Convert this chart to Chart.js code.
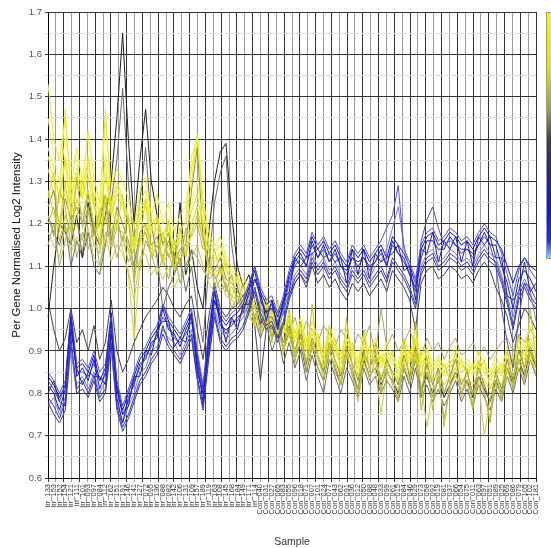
<!DOCTYPE html>
<html>
<head>
<meta charset="utf-8">
<script src="https://cdn.jsdelivr.net/npm/chart.js@4/dist/chart.umd.min.js"></script>
<style>
html, body { margin: 0; padding: 0; background: #fff; overflow: hidden; }
#wrap { position: relative; width: 551px; height: 548px; }
#colorbar {
  position: absolute; left: 546px; top: 12px; width: 10px; height: 245px;
  border: 1px solid #999;
  background: linear-gradient(to bottom, #f6f600 0%, #e2e210 22%, #9a9a50 40%, #404040 52%, #282880 64%, #1414d8 80%, #2030f0 93%, #80d8f8 100%);
}
</style>
</head>
<body>
<div id="wrap">
  <canvas id="chart" width="551" height="548"></canvas>
  <div id="colorbar"></div>
</div>
<script>
// サンプル名
var irrLabels = ['133','153','152','154','121','111','101','093','097','084','112','162','151','191','146','141','127','072','095','136','088','082','142','106','131','109','157','189','119','163','108','145','168','184','149','171','114'];
var conLabels = ['040','031','027','065','083','055','096','018','071','007','101','024','077','043','062','091','036','012','050','088','048','033','099','061','015','084','046','029','073','058','092','019','081','037','066','054','075','011','063','097','051','089','025','069','086','079','105','102','181'];

// 黄色系（Irr で高い遺伝子）
var yellow1 = [1.53,1.40,1.35,1.45,1.28,1.38,1.30,1.42,1.31,1.25, 1.44,1.29,1.33,1.30,1.26,1.19,1.28,1.31,1.22,1.27, 1.20,1.25,1.18,1.22,1.24,1.33,1.41,1.26,1.18,1.15, 1.17,1.12,1.10,1.08,1.07,1.05,1.02,1.00,1.03,0.98, 1.01,0.95,0.99,0.94,0.98,0.92,0.97,0.93,0.90,0.96, 0.92,0.89,0.95,0.91,0.88,0.94,0.90,0.93,0.88,0.92, 0.89,0.87,0.93,0.89,0.95,0.88,0.91,0.87,0.89,0.86, 0.88,0.91,0.87,0.88,0.86,0.90,0.87,0.85,0.89,0.86, 0.91,0.88,0.93,0.91,0.96,0.92];
var yellow2 = [1.18,1.15,1.12,1.20,1.13,1.17,1.14,1.19,1.12,1.10, 1.18,1.11,1.15,1.13,1.09,1.02,1.12,1.13,1.08,1.10, 1.07,1.10,1.05,1.08,1.09,1.12,1.15,1.10,1.06,1.04, 1.07,1.03,1.02,1.00,1.01,0.98,0.96,0.95,0.97,0.93, 0.95,0.90,0.94,0.88,0.92,0.86,0.91,0.88,0.84,0.90, 0.86,0.83,0.89,0.85,0.78,0.87,0.84,0.86,0.75,0.85, 0.83,0.81,0.86,0.83,0.88,0.82,0.72,0.81,0.83,0.80, 0.82,0.84,0.81,0.82,0.80,0.83,0.70,0.79,0.82,0.80, 0.84,0.82,0.86,0.84,0.88,0.85];
var yellow3 = [1.26,1.32,1.18,1.28,1.24,1.21,1.30,1.25,1.27,1.14, 1.26,1.24,1.19,1.27,1.13,1.17,1.15,1.26,1.12,1.22, 1.10,1.21,1.09,1.19,1.12,1.18,1.22,1.21,1.08,1.14, 1.08,1.11,1.02,1.08,1.00,1.05,0.96,1.01,0.97,0.99, 0.94,0.96,0.93,0.95,0.91,0.93,0.90,0.94,0.86,0.90, 0.93,0.85,0.89,0.92,0.84,0.88,0.91,0.87,0.89,0.86, 0.90,0.83,0.88,0.90,0.89,0.84,0.91,0.83,0.85,0.87, 0.83,0.86,0.88,0.84,0.87,0.85,0.88,0.81,0.84,0.87, 0.85,0.89,0.87,0.91,0.89,0.86];
var yellow4 = [1.36,1.30,1.27,1.47,1.26,1.33,1.28,1.36,1.26,1.23, 1.47,1.24,1.30,1.26,1.22,1.15,1.25,1.28,1.20,1.22, 1.17,1.21,1.15,1.19,1.20,1.30,1.41,1.23,1.15,1.13, 1.15,1.10,1.09,1.07,1.06,1.03,1.00,0.99,1.02,0.97, 1.00,0.94,0.98,0.93,0.96,0.91,0.95,0.92,0.89,0.94, 0.91,0.88,0.93,0.90,0.87,0.92,0.89,0.91,0.87,0.90, 0.88,0.86,0.91,0.88,0.93,0.87,0.89,0.86,0.88,0.85, 0.87,0.89,0.86,0.87,0.85,0.88,0.86,0.84,0.87,0.85, 0.89,0.87,0.91,0.89,0.93,0.90];
var yellow5 = [1.22,1.17,1.28,1.24,1.15,1.31,1.19,1.24,1.17,1.23, 1.25,1.15,1.21,1.16,1.22,1.06,1.17,1.18,1.13,1.12, 1.18,1.12,1.16,1.10,1.19,1.17,1.20,1.14,1.15,1.05, 1.10,1.04,1.08,1.01,1.06,0.99,1.01,0.94,1.03,0.92, 1.00,0.89,0.99,0.87,0.97,0.85,0.92,0.86,0.83,0.91, 0.85,0.82,0.90,0.84,0.80,0.89,0.83,0.88,0.81,0.86, 0.82,0.79,0.87,0.82,0.90,0.76,0.85,0.79,0.84,0.74, 0.81,0.85,0.80,0.83,0.76,0.84,0.80,0.73,0.83,0.79, 0.86,0.81,0.88,0.83,0.90,0.84];
var yellow6 = [1.28,1.22,1.20,1.30,1.18,1.26,1.22,1.28,1.20,1.16, 1.27,1.18,1.23,1.14,1.08,0.93,1.10,1.20,1.14,1.16, 1.12,1.15,1.10,1.13,1.14,1.20,1.24,1.16,1.10,1.08, 1.10,1.06,1.05,1.03,1.02,1.00,0.97,0.96,0.98,0.94, 0.96,0.91,0.95,0.90,0.93,0.88,0.92,0.89,0.86,0.91, 0.88,0.85,0.90,0.87,0.84,0.89,0.86,0.88,0.84,0.87, 0.85,0.83,0.88,0.85,0.90,0.84,0.86,0.83,0.85,0.82, 0.84,0.86,0.83,0.84,0.82,0.85,0.83,0.81,0.84,0.82, 0.86,0.84,0.88,0.86,0.90,0.87];
var yellow7 = [1.45,1.36,1.30,1.40,1.33,1.35,1.27,1.33,1.29,1.21, 1.35,1.25,1.28,1.26,1.21,1.16,1.22,1.25,1.18,1.21, 1.16,1.19,1.14,1.17,1.18,1.25,1.30,1.20,1.13,1.12, 1.13,1.09,1.07,1.06,1.05,1.03,1.00,0.99,1.01,0.97, 0.99,0.95,0.98,0.93,0.97,0.92,0.95,0.92,0.89,0.94, 0.91,0.88,0.93,0.90,0.87,0.92,0.89,0.91,0.87,0.90, 0.88,0.86,0.91,0.88,0.93,0.87,0.89,0.86,0.88,0.85, 0.87,0.89,0.86,0.87,0.85,0.88,0.86,0.84,0.87,0.85, 0.89,0.87,0.91,0.89,0.93,0.90];
var yellow8 = [1.15,1.20,1.10,1.16,1.22,1.12,1.18,1.14,1.20,1.10, 1.16,1.19,1.12,1.17,1.11,1.14,1.09,1.16,1.13,1.08, 1.12,1.07,1.13,1.06,1.10,1.14,1.12,1.09,1.07,1.08, 1.04,1.06,1.00,1.03,0.99,1.01,0.98,1.02,0.95,1.00, 0.96,0.99,0.94,0.98,0.93,0.97,0.95,0.92,0.96,0.94, 0.91,0.95,0.93,0.90,0.94,0.92,0.96,0.89,1.00,0.91, 0.94,0.90,0.92,0.95,0.91,0.89,0.93,0.90,0.92,0.88, 0.91,0.93,0.89,0.90,0.92,0.89,0.91,0.88,0.90,0.92, 0.93,0.90,0.94,0.92,0.95,0.93];
var yellow9 = [1.24,1.28,1.19,1.26,1.21,1.24,1.20,1.27,1.18,1.20, 1.27,1.16,1.24,1.20,1.16,1.10,1.18,1.20,1.15,1.17, 1.12,1.16,1.11,1.14,1.15,1.28,1.38,1.17,1.11,1.09, 1.12,1.07,1.06,1.04,1.03,1.01,0.98,0.97,0.99,0.95, 0.97,0.92,0.96,0.90,0.94,0.87,0.93,0.89,0.85,0.92, 0.88,0.84,0.91,0.87,0.83,0.90,0.86,0.89,0.83,0.88, 0.85,0.82,0.89,0.84,0.91,0.79,0.87,0.82,0.86,0.80, 0.84,0.88,0.82,0.85,0.80,0.86,0.82,0.78,0.85,0.81, 0.88,0.83,0.90,0.86,0.91,0.87];
var yellow10 = [1.33,1.27,1.25,1.35,1.22,1.30,1.26,1.31,1.24,1.19, 1.32,1.22,1.27,1.24,1.20,1.13,1.21,1.24,1.17,1.19, 1.15,1.18,1.13,1.16,1.17,1.23,1.27,1.19,1.13,1.11, 1.13,1.09,1.07,1.06,1.05,1.02,1.00,0.98,1.01,0.96, 0.98,0.94,0.97,0.92,0.95,0.90,0.94,0.91,0.88,0.93, 0.90,0.87,0.92,0.89,0.86,0.91,0.88,0.90,0.86,0.89, 0.87,0.85,0.90,0.87,0.92,0.86,0.88,0.85,0.87,0.84, 0.86,0.88,0.85,0.86,0.84,0.87,0.85,0.83,0.86,0.84, 0.88,0.86,0.90,0.88,0.92,0.89];
var yellow11 = [1.20,1.24,1.16,1.22,1.18,1.20,1.16,1.23,1.15,1.13, 1.22,1.14,1.19,1.18,1.14,1.08,1.16,1.18,1.12,1.15, 1.11,1.13,1.09,1.12,1.13,1.18,1.22,1.16,1.09,1.07, 1.09,1.05,1.03,1.02,1.01,0.99,0.96,0.95,0.97,0.93, 1.02,0.90,1.00,0.89,0.97,0.86,1.01,0.88,0.85,0.96, 0.87,0.82,0.98,0.86,0.81,0.95,0.85,0.92,0.80,0.88, 0.84,0.78,0.93,0.83,0.97,0.80,0.89,0.76,0.86,0.72, 0.83,0.90,0.79,0.86,0.77,0.88,0.80,0.74,0.86,0.78, 0.90,0.82,0.94,0.85,1.00,0.88];
var yellow12 = [1.38,1.33,1.26,1.36,1.25,1.32,1.26,1.35,1.25,1.20, 1.36,1.22,1.29,1.25,1.21,1.14,1.23,1.26,1.19,1.22, 1.17,1.20,1.14,1.18,1.21,1.36,1.40,1.24,1.16,1.14, 1.15,1.11,1.08,1.06,1.05,1.03,1.01,0.99,1.00,0.97, 0.99,0.94,0.97,0.93,0.96,0.91,0.95,0.92,0.89,0.94, 0.91,0.88,0.93,0.90,0.87,0.92,0.89,0.91,0.87,0.90, 0.88,0.86,0.91,0.88,0.93,0.87,0.89,0.86,0.88,0.85, 0.87,0.89,0.86,0.87,0.85,0.88,0.86,0.84,0.87,0.85, 0.89,0.87,0.91,0.89,0.93,0.90];

// 青系（Con で高い遺伝子）
var blue1 = [0.82,0.80,0.76,0.81,0.98,0.84,0.86,0.83,0.88,0.81, 0.85,0.97,0.79,0.73,0.79,0.82,0.87,0.88,0.92,0.93, 1.00,0.95,0.94,0.91,0.95,0.98,0.87,0.78,0.93,1.04, 0.96,0.95,0.96,0.98,0.99,1.04,1.09,1.02,0.99,1.01, 0.96,1.01,1.07,1.11,1.13,1.10,1.16,1.12,1.15,1.11, 1.14,1.10,1.09,1.12,1.11,1.12,1.10,1.11,1.14,1.10, 1.16,1.13,1.12,1.08,1.05,1.12,1.16,1.16,1.14,1.14, 1.17,1.15,1.14,1.14,1.13,1.15,1.18,1.15,1.15,1.10, 1.06,1.00,1.07,1.09,1.07,1.04];
var blue2 = [0.79,0.77,0.74,0.78,0.93,0.81,0.83,0.80,0.84,0.79, 0.81,0.92,0.77,0.72,0.75,0.79,0.83,0.85,0.88,0.90, 0.96,0.92,0.90,0.88,0.91,0.94,0.84,0.77,0.89,0.99, 0.93,0.91,0.93,0.94,0.96,1.00,1.05,0.99,0.96,0.97, 0.93,0.97,1.03,1.07,1.09,1.07,1.12,1.09,1.11,1.08, 1.10,1.07,1.05,1.09,1.07,1.09,1.06,1.08,1.10,1.07, 1.12,1.10,1.08,1.05,1.01,1.09,1.12,1.13,1.10,1.11, 1.13,1.12,1.10,1.11,1.09,1.12,1.14,1.12,1.11,1.07, 1.02,0.96,1.03,1.06,1.03,1.01];
var blue3 = [0.85,0.83,0.80,0.83,0.99,0.87,0.88,0.86,0.90,0.85, 0.87,0.98,0.83,0.77,0.81,0.85,0.89,0.91,0.94,0.96, 1.01,0.98,0.96,0.94,0.97,1.00,0.90,0.82,0.95,1.05, 0.99,0.97,0.99,1.00,1.02,1.06,1.10,1.05,1.02,1.03, 0.99,1.03,1.09,1.13,1.15,1.13,1.18,1.15,1.17,1.14, 1.16,1.13,1.11,1.15,1.13,1.15,1.12,1.14,1.16,1.19, 1.22,1.29,1.14,1.11,1.07,1.15,1.18,1.19,1.16,1.17, 1.19,1.18,1.16,1.17,1.15,1.18,1.20,1.18,1.17,1.13, 1.08,1.03,1.09,1.12,1.09,1.07];
var blue4 = [0.80,0.83,0.78,0.77,0.95,0.86,0.82,0.85,0.84,0.84, 0.82,0.94,0.81,0.75,0.77,0.84,0.84,0.90,0.89,0.95, 0.97,0.97,0.91,0.93,0.92,0.99,0.85,0.80,0.90,1.02, 0.98,0.92,0.98,0.95,1.01,1.01,1.07,1.04,0.97,1.02, 0.95,1.02,1.04,1.12,1.10,1.12,1.13,1.14,1.12,1.13, 1.11,1.12,1.06,1.14,1.08,1.14,1.07,1.13,1.11,1.12, 1.13,1.15,1.09,1.10,1.02,1.14,1.13,1.18,1.11,1.16, 1.14,1.17,1.11,1.16,1.10,1.17,1.15,1.17,1.12,1.12, 1.03,1.02,1.04,1.11,1.04,1.06];
var blue5 = [0.83,0.81,0.78,0.82,0.96,0.85,0.85,0.84,0.87,0.83, 0.84,0.95,0.81,0.75,0.78,0.83,0.86,0.89,0.91,0.94, 0.98,0.96,0.93,0.92,0.94,0.97,0.88,0.80,0.92,1.02, 0.97,0.94,0.97,0.97,1.00,1.03,1.07,1.03,0.99,1.00, 0.97,1.00,1.06,1.10,1.12,1.10,1.15,1.12,1.14,1.11, 1.13,1.10,1.08,1.12,1.10,1.12,1.09,1.11,1.13,1.10, 1.15,1.13,1.11,1.08,1.04,1.16,1.21,1.24,1.19,1.15, 1.16,1.15,1.13,1.14,1.12,1.15,1.17,1.15,1.10,1.00, 0.92,0.86,0.98,1.06,1.05,1.02];
var blue6 = [0.77,0.79,0.75,0.79,0.90,0.82,0.84,0.81,0.85,0.80, 0.83,0.90,0.78,0.73,0.77,0.80,0.85,0.86,0.90,0.91, 0.95,0.93,0.92,0.89,0.92,0.95,0.86,0.80,0.91,1.00, 0.95,0.93,0.94,0.96,0.98,1.01,1.05,1.00,0.98,0.98, 0.95,0.99,1.04,1.08,1.10,1.08,1.13,1.10,1.12,1.09, 1.11,1.08,1.06,1.10,1.08,1.10,1.07,1.10,1.11,1.14, 1.19,1.24,1.15,1.09,1.06,1.10,1.13,1.14,1.11,1.12, 1.14,1.13,1.11,1.12,1.10,1.13,1.15,1.13,1.12,1.08, 1.03,0.98,1.04,1.07,1.04,0.97];
var blue7 = [0.84,0.82,0.79,0.82,0.99,0.86,0.87,0.85,0.89,0.83, 0.86,0.99,0.82,0.76,0.80,0.84,0.88,0.90,0.93,0.95, 1.01,0.97,0.95,0.93,0.96,0.99,0.89,0.81,0.94,1.04, 0.98,0.96,0.98,0.99,1.01,1.05,1.10,1.04,1.01,1.02, 0.98,1.02,1.08,1.12,1.14,1.12,1.17,1.14,1.16,1.13, 1.15,1.12,1.10,1.14,1.12,1.14,1.11,1.13,1.15,1.12, 1.17,1.15,1.13,1.10,1.06,1.14,1.17,1.18,1.15,1.16, 1.18,1.17,1.15,1.16,1.14,1.17,1.19,1.17,1.16,1.14, 1.10,1.06,1.10,1.12,1.10,1.09];
var blue8 = [0.78,0.75,0.73,0.76,0.91,0.80,0.81,0.79,0.83,0.78, 0.80,0.91,0.76,0.71,0.74,0.78,0.82,0.84,0.87,0.89, 0.94,0.91,0.89,0.87,0.90,0.93,0.83,0.76,0.88,0.98, 0.92,0.90,0.92,0.93,0.95,0.99,1.04,0.98,0.95,0.96, 0.92,0.96,1.02,1.06,1.08,1.06,1.11,1.08,1.10,1.07, 1.09,1.06,1.04,1.08,1.06,1.08,1.05,1.07,1.09,1.06, 1.11,1.09,1.07,1.04,1.00,1.08,1.11,1.12,1.09,1.10, 1.12,1.11,1.09,1.10,1.08,1.11,1.13,1.11,1.10,1.06, 1.01,0.95,1.02,1.05,1.02,1.00];

// 黒っぽい線（中間）
var dark1 = [0.98,1.10,1.20,1.18,1.15,1.22,1.12,1.25,1.18,1.15, 1.22,1.30,1.45,1.65,1.40,1.20,1.35,1.47,1.30,1.22, 1.15,1.18,1.10,1.25,1.08,1.14,1.05,1.00,1.18,1.30, 1.37,1.39,1.22,1.10,1.05,1.08,1.02,0.96,1.00,0.93, 0.97,0.90,0.95,0.88,0.92,0.85,0.91,0.86,0.83,0.90, 0.86,0.82,0.89,0.85,0.81,0.88,0.84,0.86,0.82,0.85, 0.83,0.80,0.86,0.82,0.88,0.81,0.84,0.80,0.83,0.79, 0.82,0.85,0.80,0.83,0.79,0.84,0.81,0.78,0.83,0.80, 0.86,0.82,0.88,0.84,0.90,0.86];
var dark2 = [1.22,1.18,1.15,1.20,1.10,1.16,1.12,1.18,1.10,1.08, 1.15,1.25,1.35,1.52,1.30,1.15,1.25,1.38,1.20,1.12, 1.00,1.05,1.08,1.12,1.04,1.10,1.00,0.92,1.10,1.25, 1.32,1.36,1.15,1.05,1.00,1.02,0.98,0.93,0.97,0.90, 0.94,0.87,0.92,0.86,0.90,0.83,0.89,0.84,0.80,0.88, 0.84,0.80,0.86,0.83,0.79,0.86,0.82,0.84,0.80,0.83, 0.81,0.78,0.84,0.80,0.86,0.79,0.82,0.78,0.81,0.77, 0.80,0.83,0.78,0.81,0.77,0.82,0.79,0.76,0.81,0.78, 0.84,0.80,0.86,0.82,0.88,0.84];
var dark3 = [1.02,0.95,0.90,0.93,1.00,0.92,0.95,0.90,0.96,0.88, 0.92,1.02,0.90,0.85,0.88,0.92,0.95,0.98,1.00,1.02, 1.05,1.03,1.00,0.98,1.01,1.03,0.95,0.88,0.98,1.06, 1.00,0.98,1.00,1.01,1.03,1.05,0.96,0.83,0.95,0.98, 0.96,1.00,1.03,1.06,1.08,1.05,1.10,1.06,1.08,1.05, 1.07,1.04,1.02,1.06,1.04,1.06,1.03,1.05,1.07,1.04, 1.09,1.07,1.05,1.02,0.95,1.06,1.09,1.10,1.07,1.08, 1.10,1.09,1.07,1.08,1.06,1.09,1.11,1.09,1.05,1.02, 0.98,0.92,0.96,1.00,0.98,0.95];

var yTicksMin = 0.6;
var yTicksMax = 1.7;
var gridCount = 62;

var labels = irrLabels.map(n => 'Irr_' + n).concat(conLabels.map(n => 'Con_' + n));

var seriesList = [blue1, blue2, blue3, blue4, blue5, blue6, blue7, blue8,
                  yellow1, yellow2, yellow3, yellow4, yellow5, yellow6, yellow7, yellow8, yellow9, yellow10, yellow11, yellow12,
                  dark1, dark2, dark3];
var colors = ['#1a1ad6', '#3434c0', '#5050e0', '#2020a8', '#4a4ad0', '#7878e8', '#0e0ee8', '#3a3a9a',
              '#f2f200', '#c9c94a', '#dede10', '#e8e830', '#b5b540', '#d8d800', '#f0f060', '#a8a860', '#8c8c3a', '#e4e400', '#bdbd2a', '#ecec20',
              '#202020', '#6a6a6a', '#40405a'];

Chart.defaults.font.family = "'Liberation Sans', Arial, sans-serif";

var ctx = document.getElementById('chart');
var chart = new Chart(ctx, {
    type: 'line',
    data: {
        labels: labels,
        datasets: seriesList.map((d, i) => ({
            data: d,
            borderColor: colors[i],
            borderWidth: 1,
            pointRadius: 0,
            fill: false,
            tension: 0,
            xAxisID: 'x',
            yAxisID: 'y'
        }))
    },
    options: {
        responsive: false,
        animation: false,
        devicePixelRatio: 1,
        layout: { padding: { left: 10, right: 13, top: 12, bottom: 0 } },
        plugins: { legend: { display: false }, tooltip: { enabled: false } },
        scales: {
            x: {
                type: 'category',
                position: 'bottom',
                weight: 1,
                offset: false,
                grid: { display: false, drawTicks: false },
                border: { display: true, color: '#000' },
                ticks: { autoSkip: false, maxRotation: 90, minRotation: 90, padding: 6, color: '#333', font: { size: 7.5 } },
                title: { display: true, text: 'Sample', color: '#333', font: { size: 10.5 }, padding: { top: 6, bottom: 0 } },
                afterFit: function (s) { s.height = 70; }
            },
            xg: {
                type: 'linear',
                position: 'bottom',
                weight: 0,
                min: 0,
                max: gridCount,
                ticks: { display: false, stepSize: 1 },
                grid: { color: c => (c.index % 2 ? '#9a9a9a' : '#333'), tickLength: 4, drawTicks: true },
                border: { display: false },
                afterFit: function (s) { s.height = 0; }
            },
            y: {
                min: yTicksMin,
                max: yTicksMax,
                ticks: {
                    stepSize: 0.05,
                    color: '#555',
                    font: { size: 9.5 },
                    padding: 3,
                    callback: (v, i) => (i % 2 ? '' : v.toFixed(1))
                },
                grid: { color: c => (c.index % 2 ? '#dcdcdc' : '#333'), tickLength: 3 },
                border: { display: true, color: '#000' },
                title: { display: true, text: 'Per Gene Normalised Log2 Intensity', color: '#111', font: { size: 11.5 }, padding: { top: 0, bottom: 2 } },
                afterFit: function (s) { s.width = 38; }
            }
        }
    }
});
</script>
</body>
</html>
